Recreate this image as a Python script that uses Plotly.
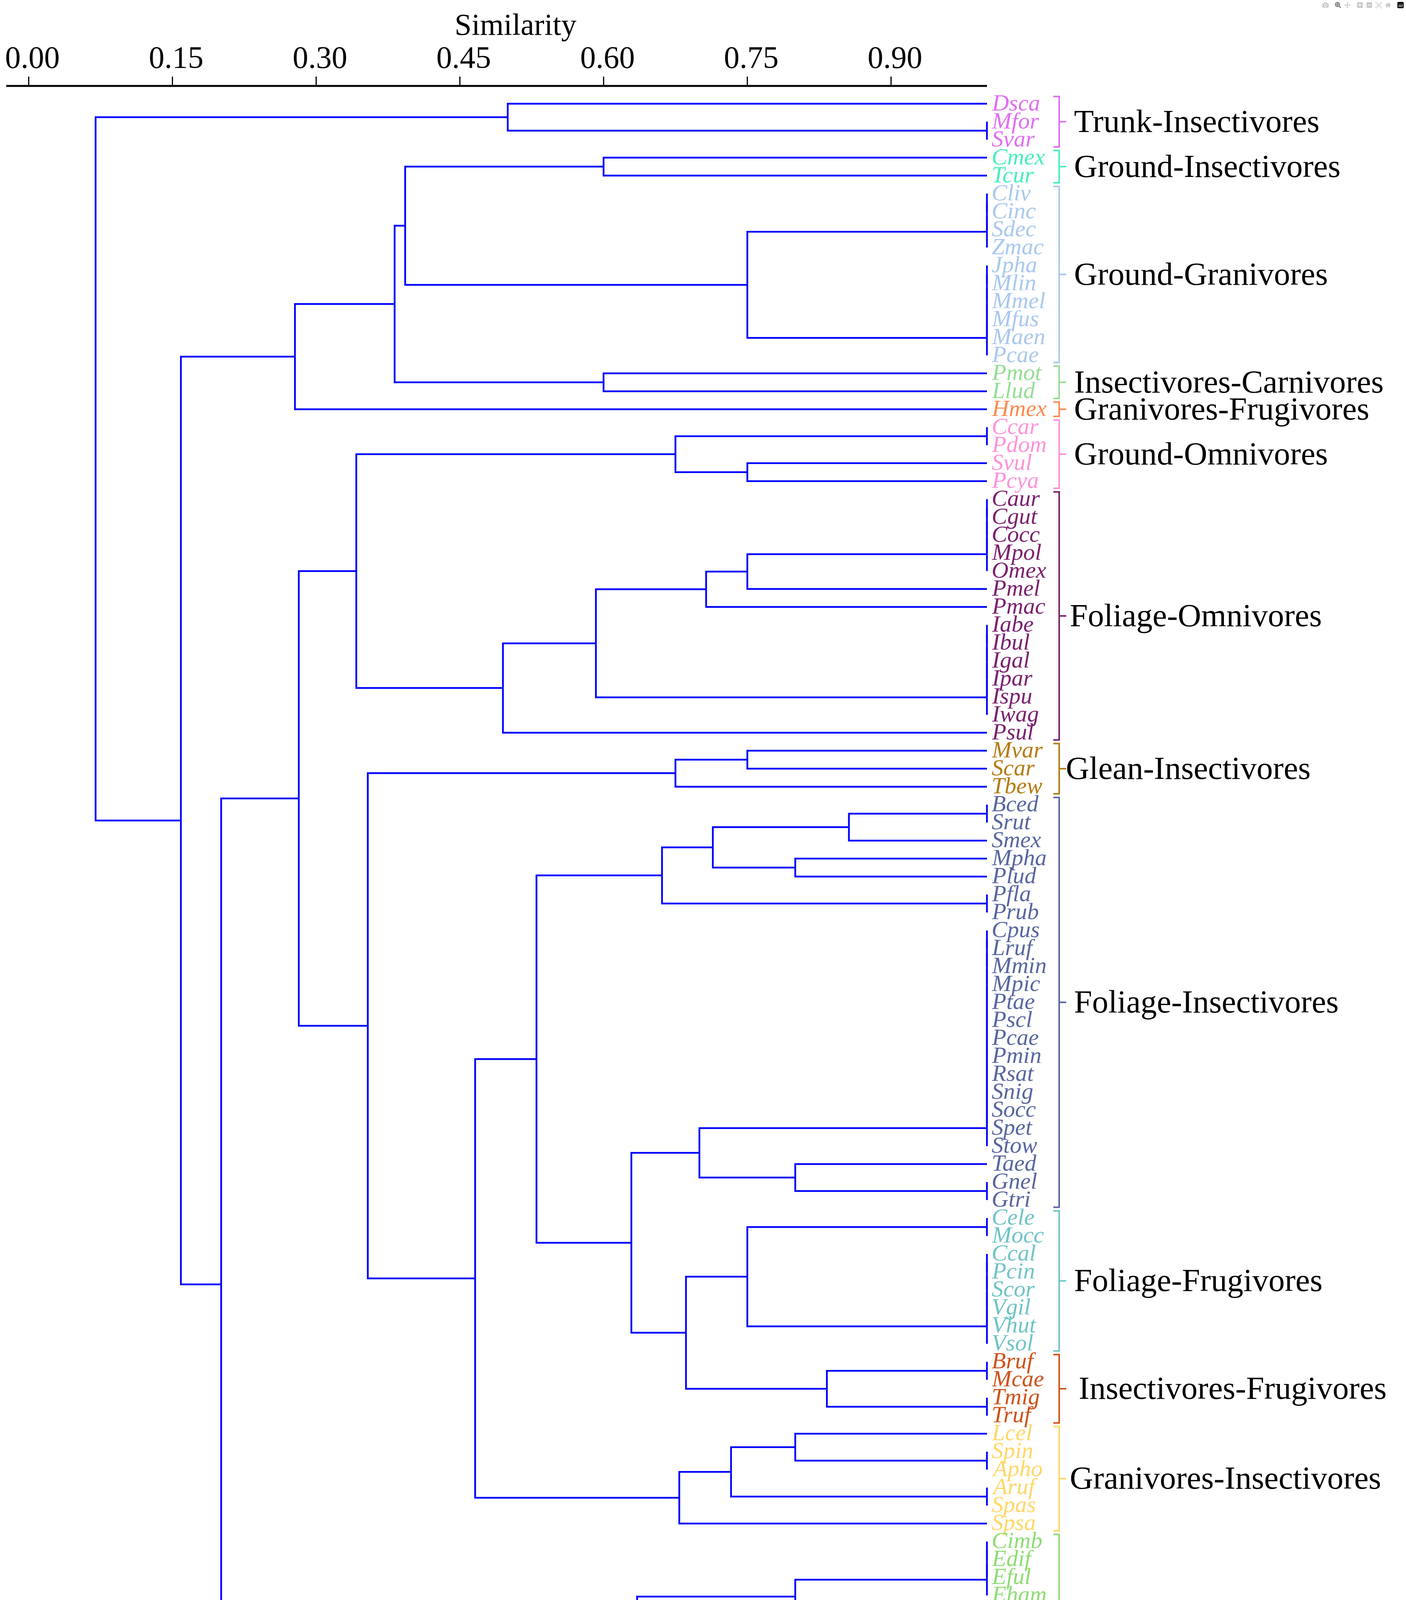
import plotly.graph_objects as go

# ---------------- data ----------------
leaves = ["Dsca", "Mfor", "Svar", "Cmex", "Tcur", "Cliv", "Cinc", "Sdec", "Zmac", "Jpha",
          "Mlin", "Mmel", "Mfus", "Maen", "Pcae", "Pmot", "Llud", "Hmex", "Ccar", "Pdom",
          "Svul", "Pcya", "Caur", "Cgut", "Cocc", "Mpol", "Omex", "Pmel", "Pmac", "Iabe",
          "Ibul", "Igal", "Ipar", "Ispu", "Iwag", "Psul", "Mvar", "Scar", "Tbew", "Bced",
          "Srut", "Smex", "Mpha", "Plud", "Pfla", "Prub", "Cpus", "Lruf", "Mmin", "Mpic",
          "Ptae", "Pscl", "Pcae", "Pmin", "Rsat", "Snig", "Socc", "Spet", "Stow", "Taed",
          "Gnel", "Gtri", "Cele", "Mocc", "Ccal", "Pcin", "Scor", "Vgil", "Vhut", "Vsol",
          "Bruf", "Mcae", "Tmig", "Truf", "Lcel", "Spin", "Apho", "Aruf", "Spas", "Spsa",
          "Cimb", "Edif", "Eful", "Eham", "Emin", "Cper", "Mcin", "Mtub", "Tmel", "Tvoc",
          "Malc", "Csor", "Prub", "Snigr", "Ssay", "Bleu", "Ctha", "Eful", "Lcle", "Sber",
          "Clat"]

groups = ["Trunk-Insectivores", "Ground-Insectivores", "Ground-Granivores",
          "Insectivores-Carnivores", "Granivores-Frugivores", "Ground-Omnivores",
          "Foliage-Omnivores", "Glean-Insectivores", "Foliage-Insectivores",
          "Foliage-Frugivores", "Insectivores-Frugivores", "Granivores-Insectivores",
          "Insectivores-Flycatchers", "Nectarivores"]
group_sizes = [3, 2, 10, 2, 1, 4, 14, 3, 23, 8, 4, 6, 15, 6]

# runs of leaves with similarity 1.0 (first leaf index, last leaf index), merged in order
identical_runs = [(1, 2), (5, 8), (9, 14), (18, 19), (22, 26), (29, 34), (39, 40), (44, 45),
                  (46, 58), (60, 61), (62, 63), (64, 69), (70, 71), (72, 73), (75, 76),
                  (77, 78), (80, 83), (85, 89), (91, 94), (95, 99)]
identical_sim = 1.0

# merges: (first leaf, last leaf of left child, last leaf, similarity)
merges = [
    (0, 0, 2, 0.500),
    (3, 3, 4, 0.600),
    (5, 8, 14, 0.750),
    (3, 4, 14, 0.393),
    (15, 15, 16, 0.600),
    (3, 14, 16, 0.382),
    (3, 16, 17, 0.278),
    (20, 20, 21, 0.750),
    (18, 19, 21, 0.675),
    (22, 26, 27, 0.750),
    (22, 27, 28, 0.707),
    (22, 28, 34, 0.592),
    (22, 34, 35, 0.495),
    (18, 21, 35, 0.342),
    (36, 36, 37, 0.750),
    (36, 37, 38, 0.675),
    (39, 40, 41, 0.856),
    (42, 42, 43, 0.800),
    (39, 41, 43, 0.714),
    (39, 43, 45, 0.661),
    (59, 59, 61, 0.800),
    (46, 58, 61, 0.700),
    (62, 63, 69, 0.750),
    (70, 71, 73, 0.833),
    (62, 69, 73, 0.686),
    (46, 61, 73, 0.629),
    (39, 45, 73, 0.530),
    (74, 74, 76, 0.800),
    (74, 76, 78, 0.733),
    (74, 78, 79, 0.679),
    (39, 73, 79, 0.466),
    (36, 38, 79, 0.354),
    (18, 35, 79, 0.282),
    (80, 83, 84, 0.800),
    (90, 90, 94, 0.750),
    (85, 89, 94, 0.719),
    (80, 84, 94, 0.635),
    (95, 99, 100, 0.833),
    (80, 94, 100, 0.312),
    (18, 79, 100, 0.201),
    (3, 17, 100, 0.159),
    (0, 2, 100, 0.070),
]

tick_vals = [0.00, 0.15, 0.30, 0.45, 0.60, 0.75, 0.90]
tick_text = ["0.00", "0.15", "0.30", "0.45", "0.60", "0.75", "0.90"]
axis_title = "Similarity"

# ---------------- styles ----------------
group_colors = ["#E06EF2", "#46EEBE", "#A9C8EE", "#94DE92", "#FF8A50", "#FF92DC",
                "#7A226F", "#B27C12", "#5867A0", "#6FC4C6", "#CF5218", "#FFD767",
                "#8FDC74", "#EC9FE6"]
group_label_px = [2748, 2748, 2748, 2748, 2748, 2748, 2737, 2727, 2748, 2748, 2760, 2737,
                  2758, 2756]

W, H = 3600, 4905
ML, MT = 16, 220
PX0, PXU = 73.0, 2454.0          # pixel of similarity 0 and pixels per unit
ROW = 46.01
Y0PX = 265.5                      # pixel of first leaf
FONT = "Liberation Serif"


def px2sim(px):
    return (px - PX0) / PXU


x_lo = px2sim(ML)
x_hi = px2sim(W)
y_top = -(Y0PX - MT) / ROW
y_bot = (len(leaves) - 1) + (H - (Y0PX + ROW * (len(leaves) - 1))) / ROW

# ---------------- dendrogram geometry ----------------
nodes = {(i, i): (1.0, float(i)) for i in range(len(leaves))}
lx, ly = [], []


def join(left, right, sim):
    xa, ya = nodes[left]
    xb, yb = nodes[right]
    lx.extend([xa, sim, sim, xb, None])
    ly.extend([ya, ya, yb, yb, None])
    nodes[(left[0], right[1])] = (sim, (ya + yb) / 2.0)


for a, b in identical_runs:
    cur = (a, a)
    for k in range(a + 1, b + 1):
        join(cur, (k, k), identical_sim)
        cur = (a, k)

for s, le, e, sim in merges:
    join((s, le), (le + 1, e), sim)

fig = go.Figure()
fig.add_trace(go.Scatter(x=lx, y=ly, mode="lines",
                         line=dict(color="#0000FF", width=4.5),
                         hoverinfo="skip", showlegend=False))

# brackets
bx_hook, bx_v, bx_tick = px2sim(2697), px2sim(2712), px2sim(2730)
annotations = []
start = 0
for g, n, col, lpx in zip(groups, group_sizes, group_colors, group_label_px):
    first, last = start, start + n - 1
    top, bot, mid = first - 0.4, last + 0.4, (first + last) / 2.0
    fig.add_trace(go.Scatter(
        x=[bx_hook, bx_v, bx_v, bx_hook, None, bx_v, bx_tick],
        y=[top, top, bot, bot, None, mid, mid],
        mode="lines", line=dict(color=col, width=4),
        hoverinfo="skip", showlegend=False))
    for i in range(first, last + 1):
        annotations.append(dict(
            x=1.0, y=i, xref="x", yref="y", text="<i>%s</i>" % leaves[i],
            showarrow=False, xanchor="left", yanchor="middle", xshift=10, yshift=3,
            font=dict(family=FONT, size=60, color=col)))
    annotations.append(dict(
        x=px2sim(lpx), y=mid, xref="x", yref="y", text=g, showarrow=False,
        xanchor="left", yanchor="middle", yshift=2,
        font=dict(family=FONT, size=83, color="#000000")))
    start += n

annotations.append(dict(
    x=px2sim(1320), y=1, xref="x", yref="paper", text=axis_title, showarrow=False,
    xanchor="center", yanchor="middle", yshift=158,
    font=dict(family=FONT, size=78, color="#000000")))

fig.update_layout(
    width=W, height=H,
    margin=dict(l=ML, r=0, t=MT, b=0, pad=0),
    paper_bgcolor="white", plot_bgcolor="white",
    showlegend=False,
    annotations=annotations,
    shapes=[dict(type="line", xref="paper", yref="paper",
                 x0=0, x1=(PX0 + PXU * 1.0 - ML) / (W - ML), y0=1, y1=1,
                 line=dict(color="black", width=5))],
    xaxis=dict(range=[x_lo, x_hi], side="top", showline=False, showgrid=False,
               zeroline=False, ticks="outside", ticklen=23, tickwidth=3,
               tickcolor="black", tickvals=tick_vals, ticktext=tick_text,
               tickfont=dict(family=FONT, size=80, color="black"),
               ticklabelshift=10, ticklabelstandoff=-10),
    yaxis=dict(range=[y_bot, y_top], visible=False, showgrid=False, zeroline=False),
)

fig.write_html("out.html", post_script="document.body.style.margin='0';")
